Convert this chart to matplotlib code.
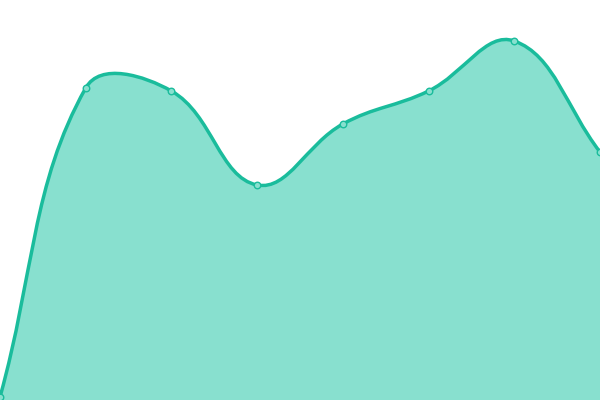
import numpy as np
import matplotlib
matplotlib.use("Agg")
import matplotlib.pyplot as plt
from matplotlib.path import Path
from matplotlib.patches import PathPatch

# values (0 = bottom, 400 = top)
labels = ["A", "B", "C", "D", "E", "F", "G", "H"]
values = [3, 312, 309, 215, 276, 309, 359, 248]

line_color = "#1abc9c"
fill_color = "#88e0cf"
tension = 0.4

W, H = 600, 400
fig = plt.figure(figsize=(6, 4), dpi=100)
ax = fig.add_axes([0, 0, 1, 1])
ax.set_xlim(0, len(values) - 1)
ax.set_ylim(0, 400)
ax.axis("off")

x = np.arange(len(values), dtype=float)
y = np.array(values, dtype=float)

# bezier control points like chart.js, worked out in pixel space
sx = W / (len(values) - 1)
px, py = x * sx, y
cps = []
for i in range(len(px)):
    prev = (px[max(i - 1, 0)], py[max(i - 1, 0)])
    cur = (px[i], py[i])
    nxt = (px[min(i + 1, len(px) - 1)], py[min(i + 1, len(px) - 1)])
    d01 = np.hypot(cur[0] - prev[0], cur[1] - prev[1])
    d12 = np.hypot(nxt[0] - cur[0], nxt[1] - cur[1])
    tot = d01 + d12
    s01 = d01 / tot if tot else 0
    s12 = d12 / tot if tot else 0
    fa, fb = tension * s01, tension * s12
    c1 = (cur[0] - fa * (nxt[0] - prev[0]), cur[1] - fa * (nxt[1] - prev[1]))
    c2 = (cur[0] + fb * (nxt[0] - prev[0]), cur[1] + fb * (nxt[1] - prev[1]))
    c1 = (c1[0] / sx, min(max(c1[1], 0), 400))
    c2 = (c2[0] / sx, min(max(c2[1], 0), 400))
    cps.append((c1, c2))

verts = [(x[0], y[0])]
codes = [Path.MOVETO]
for i in range(len(x) - 1):
    verts += [cps[i][1], cps[i + 1][0], (x[i + 1], y[i + 1])]
    codes += [Path.CURVE4] * 3

fill_verts = verts + [(x[-1], 0), (x[0], 0), (x[0], y[0])]
fill_codes = codes + [Path.LINETO, Path.LINETO, Path.CLOSEPOLY]
ax.add_patch(PathPatch(Path(fill_verts, fill_codes), facecolor=fill_color, edgecolor="none"))
ax.add_patch(PathPatch(Path(verts, codes), facecolor="none", edgecolor=line_color, lw=2.5,
                       capstyle="round", joinstyle="round"))

ax.scatter(x, y, s=22, facecolor=fill_color, edgecolor=line_color, linewidth=1, zorder=5, clip_on=False)

fig.savefig("out.png", dpi=100)
